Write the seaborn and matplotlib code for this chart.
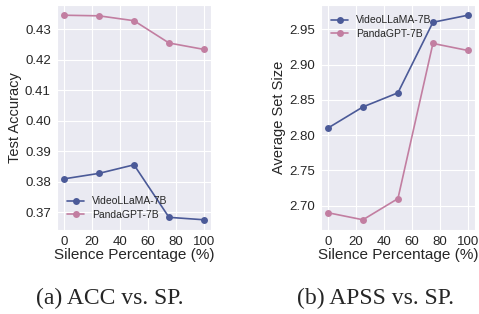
import matplotlib
matplotlib.use("Agg")
import matplotlib.pyplot as plt
import seaborn as sns
import pandas as pd

sns.set_style("darkgrid")
plt.rcParams["font.family"] = ["Liberation Sans", "DejaVu Sans"]

# ====================================
# DATA
# ====================================

silence = [0, 25, 50, 75, 100]
models = ["VideoLLaMA-7B", "PandaGPT-7B"]

acc_videollama = [0.3810, 0.3828, 0.3856, 0.3684, 0.3676]
acc_pandagpt = [0.4346, 0.4344, 0.4328, 0.4255, 0.4234]

apss_videollama = [2.81, 2.84, 2.86, 2.96, 2.97]
apss_pandagpt = [2.69, 2.68, 2.71, 2.93, 2.92]

palette = {"VideoLLaMA-7B": "#4B5A98", "PandaGPT-7B": "#C27EA1"}

acc = pd.DataFrame({
    "sp": silence * 2,
    "value": acc_videollama + acc_pandagpt,
    "model": [models[0]] * 5 + [models[1]] * 5,
})
apss = pd.DataFrame({
    "sp": silence * 2,
    "value": apss_videollama + apss_pandagpt,
    "model": [models[0]] * 5 + [models[1]] * 5,
})

# ====================================
# FIGURE
# ====================================

fig = plt.figure(figsize=(4.79, 3.14), dpi=100)
ax1 = fig.add_axes([0.119, 0.2675, 0.3215, 0.7166])
ax2 = fig.add_axes([0.670, 0.2675, 0.3215, 0.7166])

for ax, df, ylabel, loc in [
    (ax1, acc, "Test Accuracy", "lower left"),
    (ax2, apss, "Average Set Size", "upper left"),
]:
    sns.lineplot(
        data=df, x="sp", y="value", hue="model",
        palette=palette, marker="o", markersize=5,
        markeredgewidth=0, linewidth=1.2, ax=ax,
    )
    ax.set_xlabel("Silence Percentage (%)", fontsize=11, labelpad=0)
    ax.set_ylabel(ylabel, fontsize=10.5, labelpad=2)
    ax.set_xticks([0, 20, 40, 60, 80, 100])
    ax.tick_params(labelsize=9.5, pad=1)
    ax.legend(title=None, loc=loc, frameon=False, fontsize=7.5,
              handlelength=1.6, labelspacing=0.3, borderaxespad=0.6)

ax1.set_yticks([0.37, 0.38, 0.39, 0.40, 0.41, 0.42, 0.43])
ax2.set_yticks([2.70, 2.75, 2.80, 2.85, 2.90, 2.95])

fig.text(0.23, 0.05, "(a) ACC vs. SP.", ha="center", va="center",
         family="Liberation Serif", fontsize=17)
fig.text(0.783, 0.05, "(b) APSS vs. SP.", ha="center", va="center",
         family="Liberation Serif", fontsize=17)

fig.savefig("out.png", dpi=100)
plt.close()
